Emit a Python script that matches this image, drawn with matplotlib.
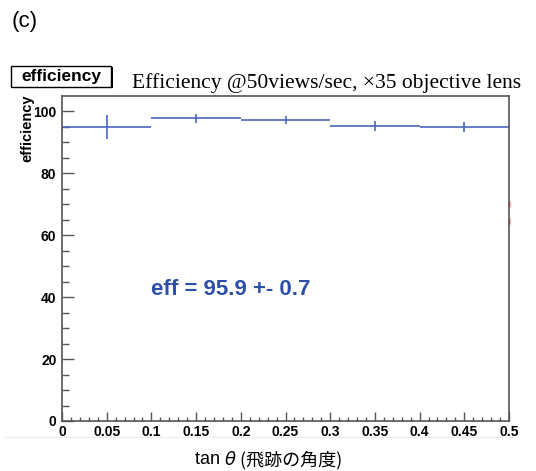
import matplotlib
matplotlib.use("Agg")
import matplotlib.pyplot as plt
from matplotlib.patches import Rectangle
from matplotlib.lines import Line2D

# data
bin_centers = [0.05, 0.15, 0.25, 0.35, 0.45]
bin_half_width = [0.05, 0.05, 0.05, 0.05, 0.05]
eff_values = [94.9, 97.8, 97.2, 95.2, 94.9]
eff_errors = [3.9, 1.5, 1.4, 1.6, 1.6]
x_ticks = [0, 0.05, 0.1, 0.15, 0.2, 0.25, 0.3, 0.35, 0.4, 0.45, 0.5]
x_tick_labels = ["0", "0.05", "0.1", "0.15", "0.2", "0.25", "0.3", "0.35", "0.4", "0.45", "0.5"]
y_ticks = [0, 20, 40, 60, 80, 100]
# faint red pieces on the right frame
red_lo = [63.5, 69.0]
red_hi = [65.5, 71.0]

title = "Efficiency @50views/sec, \u00d735 objective lens"
summary = "eff = 95.9 +- 0.7"

W, H = 536, 471
fig = plt.figure(figsize=(W / 100, H / 100), dpi=100)
ax = fig.add_axes([62 / W, 1 - 421 / H, (509 - 62) / W, (421 - 96) / H])

line_col = "#4a66c0"
ax.errorbar(bin_centers, eff_values, xerr=bin_half_width, yerr=eff_errors,
            fmt="none", ecolor=line_col, elinewidth=1.2, capsize=0)
ax.vlines([0.5, 0.5], red_lo, red_hi, colors="#ff7070", lw=2.0, alpha=0.7,
          zorder=1, clip_on=False)

ax.set_xlim(0, 0.5)
ax.set_ylim(0, 105)
ax.set_xticks(x_ticks)
ax.set_xticklabels(x_tick_labels)
ax.set_xticks([i * 0.01 for i in range(51)], minor=True)
ax.set_yticks(y_ticks)
ax.set_yticks(list(range(0, 105, 5)), minor=True)

for s in ax.spines.values():
    s.set_color("#555555")
    s.set_linewidth(1.2)
ax.tick_params(which="both", direction="in", color="#555555", width=1.0)
ax.tick_params(axis="x", which="major", length=6.5, pad=3)
ax.tick_params(axis="x", which="minor", length=3.2)
ax.tick_params(axis="y", which="major", length=8.5, pad=4)
ax.tick_params(axis="y", which="minor", length=5)
ax.tick_params(top=False, right=False)
for lab in ax.get_xticklabels() + ax.get_yticklabels():
    lab.set_family("Liberation Sans")
    lab.set_fontweight("bold")
    lab.set_fontsize(10)

ax.text(0.1, 42.4, summary, color="#2c50a8", fontsize=16, fontweight="bold",
        family="Liberation Sans", va="center", ha="left")

# y label, ROOT style: right aligned at the top of the axis
fig.text(27.5 / W, 1 - 95 / H, "efficiency", rotation=90, ha="center", va="top",
         family="Liberation Sans", fontweight="bold", fontsize=10.5)

# x label: "tan", italic theta, Japanese part
t1 = fig.text(195 / W, 1 - 460 / H, "tan ", family="Liberation Sans",
              fontsize=13, va="center", ha="left")
t2 = ax.annotate("\u03b8", xy=(1, 0.5), xycoords=t1, va="center", ha="left",
                 family="DejaVu Sans", style="italic", fontsize=13,
                 annotation_clip=False)
ax.annotate(" (\u98db\u8de1\u306e\u89d2\u5ea6)", xy=(1, 0.5), xycoords=t2,
            va="center", ha="left", family=["Noto Sans CJK JP", "DejaVu Sans"],
            fontsize=13, annotation_clip=False)

# panel tag and title
fig.text(12 / W, 1 - 22 / H, "(c)", family="Liberation Sans", fontsize=16,
         va="center", ha="left")
fig.text(132 / W, 1 - 83 / H, title, family="Liberation Serif", fontsize=15.5,
         va="center", ha="left")

# "efficiency" name box with shadow
fig.add_artist(Rectangle((13 / W, 1 - 88 / H), 100 / W, 21 / H,
                         transform=fig.transFigure, facecolor="black",
                         edgecolor="black", lw=0))
fig.add_artist(Rectangle((11 / W, 1 - 87 / H), 100 / W, 21 / H,
                         transform=fig.transFigure, facecolor="white",
                         edgecolor="black", lw=1.0))
fig.text(61 / W, 1 - 76.5 / H, "efficiency", family="Liberation Sans",
         fontweight="bold", fontsize=12.5, ha="center", va="center")

# faint separator line above the x label
fig.add_artist(Line2D([5 / W, 513 / W], [1 - 437 / H, 1 - 437 / H],
                      transform=fig.transFigure, color="#ececec", lw=0.8))

fig.savefig("out.png", dpi=100)
